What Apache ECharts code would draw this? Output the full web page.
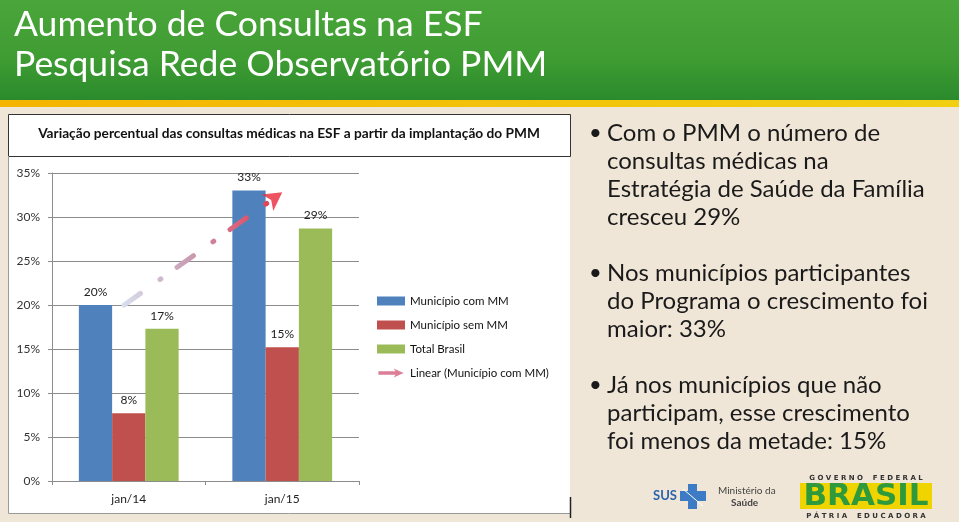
<!DOCTYPE html>
<html>
<head>
<meta charset="utf-8">
<script src="https://cdn.jsdelivr.net/npm/echarts@6/dist/echarts.min.js"></script>
<style>
  html, body { margin: 0; padding: 0; background: #f0e6d8; }
  #chart { width: 959px; height: 522px; }
</style>
</head>
<body>
<div id="chart"></div>
<script>
  // dados
  const categories = ['jan/14', 'jan/15'];
  const comMM = [20, 33];
  const semMM = [7.7, 15.2];
  const totalBrasil = [17.3, 28.7];
  // tendência linear (posição no eixo x oculto 0..2, valor em %)
  const trendX = [0.47, 1.5];
  const trendY = [20, 32.8];
  const yTicks = [0, 5, 10, 15, 20, 25, 30, 35];

  const seriesNames = ['Município com MM', 'Município sem MM', 'Total Brasil', 'Linear (Município com MM)'];
  const headerLines = ['Aumento de Consultas na ESF', 'Pesquisa Rede Observatório PMM'];
  const chartTitle = 'Variação percentual das consultas médicas na ESF a partir da implantação do PMM';
  const bullets = [
    ['Com o PMM o número de', 'consultas médicas na', 'Estratégia de Saúde da Família', 'cresceu 29%'],
    ['Nos municípios participantes', 'do Programa o crescimento foi', 'maior: 33%'],
    ['Já nos municípios que não', 'participam, esse crescimento', 'foi menos da metade: 15%']
  ];

  const font = 'Lato, "Open Sans", sans-serif';
  const chart = echarts.init(document.getElementById('chart'));

  const barLabel = {
    show: true,
    position: 'top',
    distance: 7,
    fontSize: 12,
    color: '#222',
    fontFamily: font,
    formatter: p => Math.round(p.value) + '%'
  };

  const arrowIcon = 'path://M0,3 L19,3 L17,0 L28,5 L17,10 L19,7 L0,7 Z';

  const bulletTops = [119, 259, 371];
  const bulletGraphics = [];
  bullets.forEach((lines, i) => {
    bulletGraphics.push({
      type: 'text', left: 589, top: bulletTops[i], z: 1,
      style: { text: '•', fontSize: 22, fontFamily: font, fill: '#1a1a1a', lineHeight: 28 }
    });
    bulletGraphics.push({
      type: 'text', left: 607, top: bulletTops[i], z: 1,
      style: { text: lines.join('\n'), fontSize: 24, fontFamily: font, fill: '#1a1a1a', lineHeight: 28 }
    });
  });

  const option = {
    backgroundColor: '#f0e6d8',
    animation: false,
    graphic: [
      // cabeçalho verde
      {
        type: 'rect', shape: { x: 0, y: 0, width: 959, height: 100 }, z: 0,
        style: {
          fill: {
            type: 'linear', x: 0, y: 0, x2: 0, y2: 1,
            colorStops: [{ offset: 0, color: '#4aa63a' }, { offset: 0.6, color: '#3f9c33' }, { offset: 1, color: '#2b8a2c' }]
          }
        }
      },
      {
        type: 'rect', shape: { x: 0, y: 100, width: 959, height: 7 }, z: 0,
        style: {
          fill: {
            type: 'linear', x: 0, y: 0, x2: 1, y2: 0,
            colorStops: [{ offset: 0, color: '#f4b400' }, { offset: 1, color: '#f1cf12' }]
          }
        }
      },
      {
        type: 'text', left: 14, top: 7, z: 1,
        style: { text: headerLines[0], fontSize: 35.5, fontFamily: font, fill: '#fff' }
      },
      {
        type: 'text', left: 14, top: 47, z: 1,
        style: { text: headerLines[1], fontSize: 35.5, fontFamily: font, fill: '#fff' }
      },
      // caixa do gráfico
      {
        type: 'rect', shape: { x: 8, y: 114, width: 562, height: 400 }, z: 0,
        style: { fill: '#fff', stroke: null }
      },
      {
        type: 'rect', shape: { x: 8.5, y: 114.5, width: 562, height: 42 }, z: 1,
        style: { fill: 'none', stroke: '#333', lineWidth: 1 }
      },
      {
        type: 'polyline', shape: { points: [[8.5, 156], [8.5, 513.5], [570.5, 513.5]] }, z: 1,
        style: { fill: 'none', stroke: '#999', lineWidth: 1 }
      },
      {
        type: 'line', shape: { x1: 570.5, y1: 497, x2: 570.5, y2: 518 }, z: 1,
        style: { stroke: '#222', lineWidth: 1.5 }
      },
      {
        type: 'text', x: 289, y: 134, z: 1,
        style: { text: chartTitle, fontSize: 13.7, fontWeight: 'bold', fontFamily: font, fill: '#111', align: 'center', verticalAlign: 'middle' }
      },
      ...bulletGraphics,
      // logos
      {
        type: 'text', x: 653, y: 496, z: 1,
        style: { text: 'SUS', fontSize: 13, fontWeight: 'bold', fontFamily: font, fill: '#2a64ae', verticalAlign: 'middle' }
      },
      { type: 'rect', shape: { x: 688, y: 484, width: 9, height: 25 }, z: 1, style: { fill: '#3d7cc4' } },
      { type: 'rect', shape: { x: 680, y: 491, width: 26, height: 10 }, z: 1, style: { fill: '#3d7cc4' } },
      { type: 'line', shape: { x1: 683, y1: 489, x2: 703, y2: 506 }, z: 1, style: { stroke: '#fff', lineWidth: 1 } },
      {
        type: 'text', x: 718, y: 491, z: 1,
        style: { text: 'Ministério da', fontSize: 10, fontFamily: font, fill: '#444', verticalAlign: 'middle' }
      },
      {
        type: 'text', x: 731, y: 503, z: 1,
        style: { text: 'Saúde', fontSize: 10, fontWeight: 'bold', fontFamily: font, fill: '#444', verticalAlign: 'middle' }
      },
      {
        type: 'text', x: 866, y: 478, z: 1,
        style: { text: 'G O V E R N O    F E D E R A L', fontSize: 7, fontWeight: 'bold', fontFamily: '"DejaVu Sans", sans-serif', fill: '#333', align: 'center', verticalAlign: 'middle' }
      },
      { type: 'rect', shape: { x: 800, y: 483, width: 132, height: 26 }, z: 1, style: { fill: '#f0d400' } },
      {
        type: 'text', x: 866, y: 497, z: 2,
        style: { text: 'BRASIL', fontSize: 31, fontWeight: 'bold', fontFamily: '"DejaVu Sans", sans-serif', fill: '#2f9a3c', align: 'center', verticalAlign: 'middle' }
      },
      {
        type: 'text', x: 866, y: 516, z: 1,
        style: { text: 'P Á T R I A    E D U C A D O R A', fontSize: 7, fontWeight: 'bold', fontFamily: '"DejaVu Sans", sans-serif', fill: '#333', align: 'center', verticalAlign: 'middle' }
      }
    ],
    legend: {
      left: 377,
      top: 295,
      orient: 'vertical',
      padding: 0,
      itemWidth: 28,
      itemHeight: 9,
      itemGap: 12,
      textStyle: { fontSize: 11.5, color: '#111', fontFamily: font },
      data: [
        { name: seriesNames[0], icon: 'rect' },
        { name: seriesNames[1], icon: 'rect' },
        { name: seriesNames[2], icon: 'rect' },
        { name: seriesNames[3], icon: arrowIcon, itemStyle: { color: '#dc7e96' }, lineStyle: { width: 0 } }
      ]
    },
    grid: { left: 52, right: 600, top: 173, bottom: 41 },
    xAxis: [
      {
        type: 'category',
        data: categories,
        axisLine: { lineStyle: { color: '#8c8c8c' } },
        axisTick: { show: true, length: 4, lineStyle: { color: '#8c8c8c' } },
        axisLabel: { fontSize: 12, color: '#222', fontFamily: font, margin: 12 }
      },
      { type: 'value', min: 0, max: 2, show: false }
    ],
    yAxis: {
      type: 'value',
      min: yTicks[0],
      max: yTicks[yTicks.length - 1],
      interval: 5,
      axisLine: { show: true, lineStyle: { color: '#8c8c8c' } },
      axisTick: { show: true, length: 4, lineStyle: { color: '#8c8c8c' } },
      axisLabel: { formatter: '{value}%', fontSize: 12, color: '#333', fontFamily: font, margin: 12 },
      splitLine: { lineStyle: { color: '#8c8c8c' } }
    },
    series: [
      {
        name: seriesNames[0], type: 'bar', data: comMM, barGap: 0, barCategoryGap: '35%',
        itemStyle: { color: '#4f81bd' }, label: barLabel
      },
      {
        name: seriesNames[1], type: 'bar', data: semMM,
        itemStyle: { color: '#c0504d' }, label: barLabel
      },
      {
        name: seriesNames[2], type: 'bar', data: totalBrasil,
        itemStyle: { color: '#9bbb59' }, label: barLabel
      },
      {
        name: seriesNames[3], type: 'line', xAxisIndex: 1, z: 5,
        data: trendX.map((x, i) => [x, trendY[i]]),
        symbol: 'none',
        itemStyle: { color: '#dc7e96' },
        lineStyle: {
          width: 5, cap: 'round', type: [20, 24, 1, 20],
          color: {
            type: 'linear', x: 0, y: 0, x2: 1, y2: 0,
            colorStops: [
              { offset: 0, color: '#d8dfee' },
              { offset: 0.45, color: '#c897ae' },
              { offset: 0.75, color: '#dd5a72' },
              { offset: 1, color: '#ec2f40' }
            ]
          }
        }
      },
      {
        name: 'seta', type: 'scatter', xAxisIndex: 1, z: 6, silent: true,
        data: [[trendX[1], trendY[1]]],
        symbol: 'arrow', symbolSize: [15, 18], symbolRotate: -55, symbolOffset: [0, 0],
        itemStyle: { color: '#e8283a' }
      }
    ]
  };

  chart.setOption(option);
</script>
</body>
</html>
